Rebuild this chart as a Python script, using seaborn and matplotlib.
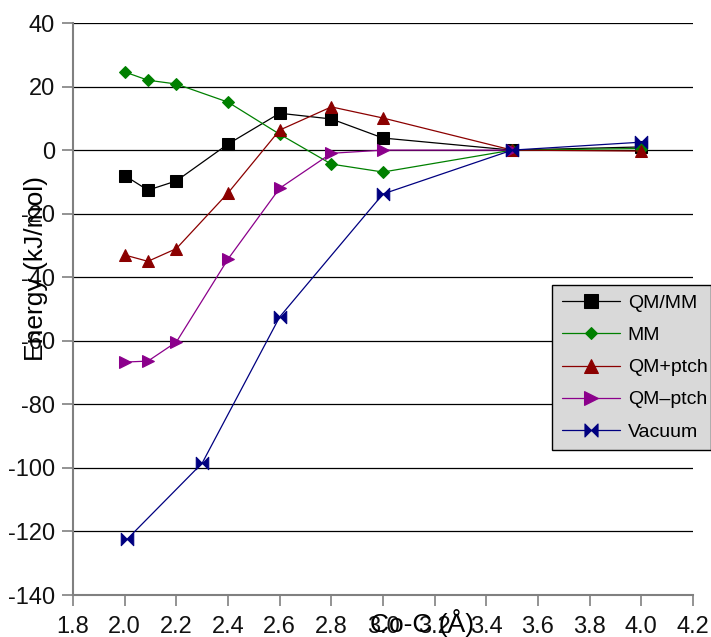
import numpy as np
import pandas as pd
import matplotlib
matplotlib.use('Agg')
import matplotlib.pyplot as plt
from matplotlib.path import Path
import seaborn as sns

sns.set_style('white')
plt.rcParams['font.family'] = ['Liberation Sans', 'DejaVu Sans']
plt.rcParams['axes.unicode_minus'] = False
plt.rcParams['text.color'] = 'black'
plt.rcParams['axes.labelcolor'] = 'black'
plt.rcParams['xtick.color'] = 'black'
plt.rcParams['ytick.color'] = 'black'

# Co-C distance (Angstrom) and relative energies (kJ/mol)
x_qmmm = [2.0, 2.09, 2.2, 2.4, 2.6, 2.8, 3.0, 3.5, 4.0]
y_qmmm = [-8.0, -12.6, -9.7, 1.9, 11.6, 9.8, 3.8, 0.0, 1.0]

x_mm = [2.0, 2.09, 2.2, 2.4, 2.6, 2.8, 3.0, 3.5, 4.0]
y_mm = [24.6, 22.0, 20.8, 15.1, 5.0, -4.4, -6.9, 0.0, 0.5]

x_qmp = [2.0, 2.09, 2.2, 2.4, 2.6, 2.8, 3.0, 3.5, 4.0]
y_qmp = [-33.0, -35.0, -31.0, -13.5, 6.3, 13.6, 10.1, 0.0, -0.3]

x_qmm = [2.0, 2.09, 2.2, 2.4, 2.6, 2.8, 3.0, 3.5]
y_qmm = [-66.7, -66.4, -60.4, -34.3, -12.0, -1.0, 0.0, 0.0]

x_vac = [2.01, 2.3, 2.6, 3.0, 3.5, 4.0]
y_vac = [-122.4, -98.5, -52.5, -13.8, 0.0, 2.5]

x_ticks = [1.8, 2.0, 2.2, 2.4, 2.6, 2.8, 3.0, 3.2, 3.4, 3.6, 3.8, 4.0, 4.2]
y_ticks = [40, 20, 0, -20, -40, -60, -80, -100, -120, -140]

# bowtie marker for the vacuum series
bowtie = Path([(-1, -1), (0, 0), (-1, 1), (-1, -1),
               (1, -1), (0, 0), (1, 1), (1, -1)],
              [Path.MOVETO, Path.LINETO, Path.LINETO, Path.CLOSEPOLY,
               Path.MOVETO, Path.LINETO, Path.LINETO, Path.CLOSEPOLY])

fig = plt.figure(figsize=(7.11, 6.37), dpi=100)
ax = fig.add_axes([73/711, 42/637, 620/711, 572/637])

for yv in y_ticks:
    ax.axhline(yv, color='black', lw=0.9, zorder=0)

series = [
    (x_qmmm, y_qmmm, 'QM/MM', 'black', 's', 9),
    (x_mm, y_mm, 'MM', 'green', 'D', 6),
    (x_qmp, y_qmp, 'QM+ptch', '#8b0000', '^', 9),
    (x_qmm, y_qmm, 'QM\u2013ptch', '#8b008b', '>', 9),
    (x_vac, y_vac, 'Vacuum', '#000080', bowtie, 9),
]
for xs, ys, name, col, mk, ms in series:
    sns.lineplot(x=xs, y=ys, ax=ax, color=col, marker=mk, markersize=ms,
                 markeredgecolor=col, markerfacecolor=col, lw=0.9,
                 label=name, sort=False, zorder=3)

ax.set_xlim(1.8, 4.2)
ax.set_ylim(-140, 40)
ax.set_xticks(x_ticks)
ax.set_xticklabels([f'{t:.1f}' for t in x_ticks])
ax.set_yticks(y_ticks)
ax.tick_params(axis='both', labelsize=17, length=8, width=1.2, color='#808080',
               direction='out', left=True, bottom=True, labelcolor='#111111')
ax.tick_params(axis='x', pad=7)
ax.tick_params(axis='y', pad=5)
for s in ['top', 'right']:
    ax.spines[s].set_visible(False)
for s in ['left', 'bottom']:
    ax.spines[s].set_color('#808080')
    ax.spines[s].set_linewidth(1.5)

ax.set_xlabel('Co-C (Å)', fontsize=19)
ax.xaxis.label.set_va('center')
ax.xaxis.set_label_coords(0.563, -0.049)
ax.set_ylabel('Energy (kJ/mol)', fontsize=19)
ax.yaxis.label.set_va('center')
ax.yaxis.set_label_coords(-0.059, 0.57)

leg = ax.legend(loc='center', bbox_to_anchor=(552/711, 189/637, 159/711, 161/637),
                bbox_transform=fig.transFigure, mode='expand', fontsize=14,
                fancybox=False, frameon=True, facecolor='#d9d9d9', edgecolor='black',
                framealpha=1, handlelength=3.0, handletextpad=0.4, borderaxespad=0,
                borderpad=0.5, labelspacing=0.75, markerscale=1.05)
leg.get_frame().set_linewidth(1.0)

fig.savefig('out.png', dpi=100)
